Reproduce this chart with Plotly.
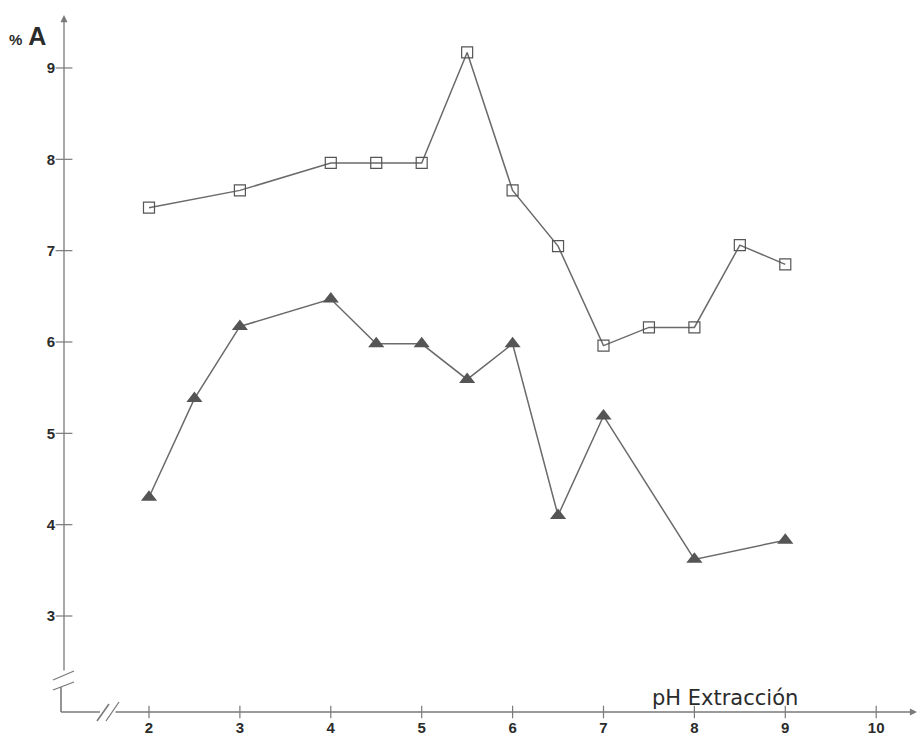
import plotly.graph_objects as go

# pH de extracción y % A para cada serie
ph_cuadrados = [2, 3, 4, 4.5, 5, 5.5, 6, 6.5, 7, 7.5, 8, 8.5, 9]
a_cuadrados = [7.47, 7.66, 7.96, 7.96, 7.96, 9.17, 7.66, 7.05, 5.96, 6.16, 6.16, 7.06, 6.85]

ph_triangulos = [2, 2.5, 3, 4, 4.5, 5, 5.5, 6, 6.5, 7, 8, 9]
a_triangulos = [4.30, 5.38, 6.17, 6.47, 5.98, 5.98, 5.59, 5.98, 4.10, 5.19, 3.62, 3.83]

x_ticks = [2, 3, 4, 5, 6, 7, 8, 9, 10]
y_ticks = [3, 4, 5, 6, 7, 8, 9]

X_RANGE = [1.065, 10.449]
Y_RANGE = [1.949, 9.580]

W, H = 922, 744
M_L, M_R, M_T, M_B = 64, 5, 15, 32
PLOT_W = W - M_L - M_R
PLOT_H = H - M_T - M_B

AXIS = "#7a7a7a"
LINE = "#6a6a6a"
MARK = "#555555"
TEXT = "#2b2b2b"
TICK_FONT = dict(family="Liberation Sans, Arial, sans-serif", size=15, color=TEXT)


def pp(dx, dy):
    """Pixel offset from the axes origin (right, down) -> paper coords."""
    return dx / PLOT_W, -dy / PLOT_H


fig = go.Figure()

fig.add_trace(go.Scatter(
    x=ph_cuadrados, y=a_cuadrados, mode="lines+markers",
    line=dict(color=LINE, width=1.5),
    marker=dict(symbol="square-open", size=11, color=MARK, line=dict(width=1.2)),
    showlegend=False, hoverinfo="x+y",
))
fig.add_trace(go.Scatter(
    x=ph_triangulos, y=a_triangulos, mode="lines+markers",
    line=dict(color=LINE, width=1.5),
    marker=dict(symbol="triangle-up", size=14, color=MARK, line=dict(width=0)),
    showlegend=False, hoverinfo="x+y",
))

# tick marks crossing each axis
fig.add_trace(go.Scatter(
    x=[X_RANGE[0]] * len(y_ticks), y=y_ticks, mode="markers",
    marker=dict(symbol="line-ew", size=12, line=dict(width=1.2, color=AXIS)),
    cliponaxis=False, showlegend=False, hoverinfo="skip",
))
fig.add_trace(go.Scatter(
    x=x_ticks, y=[Y_RANGE[0]] * len(x_ticks), mode="markers",
    marker=dict(symbol="line-ns", size=9, line=dict(width=1.2, color=AXIS)),
    cliponaxis=False, showlegend=False, hoverinfo="skip",
))

annotations = []
# y axis with arrowhead, starting above the break
annotations.append(dict(
    x=0, y=1, xref="paper", yref="paper", text="", showarrow=True,
    ax=0, ay=PLOT_H - 40, arrowhead=2, arrowsize=1.1, arrowwidth=1.3,
    arrowcolor=AXIS, standoff=0, startstandoff=0,
))
# x axis with arrowhead, starting right of the break
annotations.append(dict(
    x=1, y=0, xref="paper", yref="paper", text="", showarrow=True,
    ax=-(PLOT_W - 50), ay=0, arrowhead=2, arrowsize=1.1, arrowwidth=1.3,
    arrowcolor=AXIS, standoff=0, startstandoff=0,
))
annotations.append(dict(
    x=pp(-57, 0)[0], y=pp(0, -676)[1], xref="paper", yref="paper",
    xanchor="left", yanchor="middle", showarrow=False,
    text="%<span style='font-size:25px'> A</span>",
    font=dict(family="Liberation Sans, Arial, sans-serif", size=15, color=TEXT, weight="bold"),
))
annotations.append(dict(
    x=pp(661, 0)[0], y=pp(0, -14)[1], xref="paper", yref="paper",
    xanchor="center", yanchor="middle", showarrow=False,
    text="pH Extracción",
    font=dict(family="DejaVu Sans, sans-serif", size=21, color=TEXT),
))

shapes = []


def seg(p0, p1, width=1.3):
    x0, y0 = pp(*p0)
    x1, y1 = pp(*p1)
    shapes.append(dict(type="line", xref="paper", yref="paper",
                       x0=x0, y0=y0, x1=x1, y1=y1,
                       line=dict(color=AXIS, width=width)))


# break marks on the y axis
seg((-11, -32), (10, -41))
seg((-11, -22), (10, -30))
# short corner piece below/left of the breaks
seg((-3, -25), (-3, 0), width=1.6)
seg((-3, 0), (36, 0), width=1.6)
# break marks on the x axis
seg((33, 9), (45, -8), width=1.6)
seg((42, 9), (55, -10))

fig.update_layout(
    width=W, height=H,
    margin=dict(l=M_L, r=M_R, t=M_T, b=M_B),
    paper_bgcolor="white", plot_bgcolor="white",
    xaxis=dict(range=X_RANGE, showline=False, showgrid=False, zeroline=False,
               tickvals=x_ticks, ticktext=[str(v) for v in x_ticks],
               ticks="", ticklabelstandoff=5,
               tickfont=dict(**TICK_FONT, weight="bold")),
    yaxis=dict(range=Y_RANGE, showline=False, showgrid=False, zeroline=False,
               tickvals=y_ticks, ticktext=[str(v) for v in y_ticks],
               ticks="", ticklabelstandoff=8,
               tickfont=dict(**TICK_FONT, weight="bold")),
    annotations=annotations,
    shapes=shapes,
)

fig.write_html("out.html")
